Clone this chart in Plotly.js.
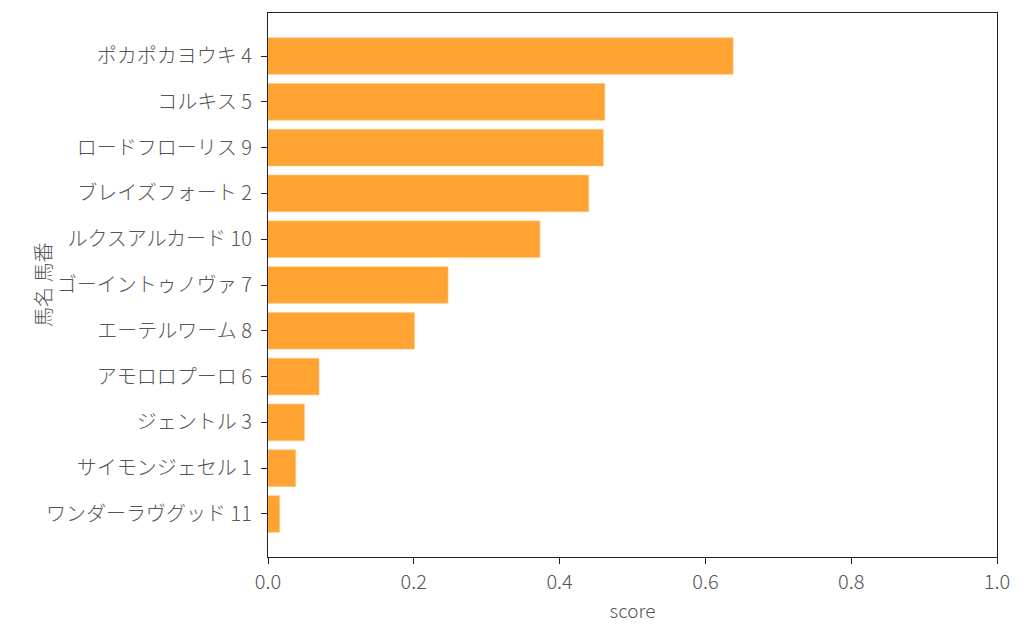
<!DOCTYPE html>
<html>
<head>
<meta charset="utf-8">
<script src="https://cdn.plot.ly/plotly-3.0.1.min.js"></script>
<style>
  html, body { margin: 0; padding: 0; background: #fff; }
  #chart { width: 1024px; height: 638px; }
</style>
</head>
<body>
<div id="chart"></div>
<script>
// horses, top to bottom as shown
const horseNames = ["ポカポカヨウキ 4", "コルキス 5", "ロードフローリス 9", "ブレイズフォート 2",
                    "ルクスアルカード 10", "ゴーイントゥノヴァ 7", "エーテルワーム 8",
                    "アモロロプーロ 6", "ジェントル 3", "サイモンジェセル 1", "ワンダーラヴグッド 11"];
const scores = [0.638, 0.462, 0.460, 0.440, 0.373, 0.247, 0.201, 0.070, 0.050, 0.038, 0.016];
const xTicks = [0, 0.2, 0.4, 0.6, 0.8, 1.0];

const textColor = "#555555";
const fontFamily = "'Noto Sans CJK JP', 'Noto Sans', sans-serif";

const traceScores = {
    type: "bar",
    orientation: "h",
    x: scores,
    y: horseNames,
    width: 0.8,
    marker: {
        color: "#ffa333",
        line: { color: "#ffc680", width: 0.6 }
    },
    hovertemplate: "%{y}: %{x:.3f}<extra></extra>"
};

const layout = {
    width: 1024,
    height: 638,
    margin: { l: 268, r: 27, t: 13, b: 81 },
    paper_bgcolor: "#ffffff",
    plot_bgcolor: "#ffffff",
    font: { family: fontFamily, color: textColor, size: 20, weight: 300 },
    showlegend: false,
    bargap: 0.2,
    xaxis: {
        range: [0, 1],
        tickvals: xTicks,
        ticktext: xTicks.map(v => v.toFixed(1)),
        ticks: "outside",
        ticklen: 6,
        tickwidth: 1.3,
        tickcolor: "#222",
        ticklabelstandoff: 1,
        showline: true,
        linecolor: "#222",
        linewidth: 1.3,
        mirror: true,
        showgrid: false,
        zeroline: false,
        title: { text: "score", standoff: 10, font: { size: 19, color: textColor } }
    },
    yaxis: {
        type: "category",
        range: [10.94, -0.94],
        ticks: "outside",
        ticklen: 6,
        tickwidth: 1.3,
        tickcolor: "#222",
        ticklabelstandoff: 5,
        showline: true,
        linecolor: "#222",
        linewidth: 1.3,
        mirror: true,
        showgrid: false,
        zeroline: false
    },
    annotations: [{
        text: "馬名 馬番",
        xref: "paper",
        yref: "paper",
        x: -0.31,
        xanchor: "center",
        y: 0.5,
        yanchor: "middle",
        textangle: -90,
        showarrow: false,
        font: { size: 20, color: textColor }
    }]
};

Plotly.newPlot("chart", [traceScores], layout, { displayModeBar: false });
</script>
</body>
</html>
